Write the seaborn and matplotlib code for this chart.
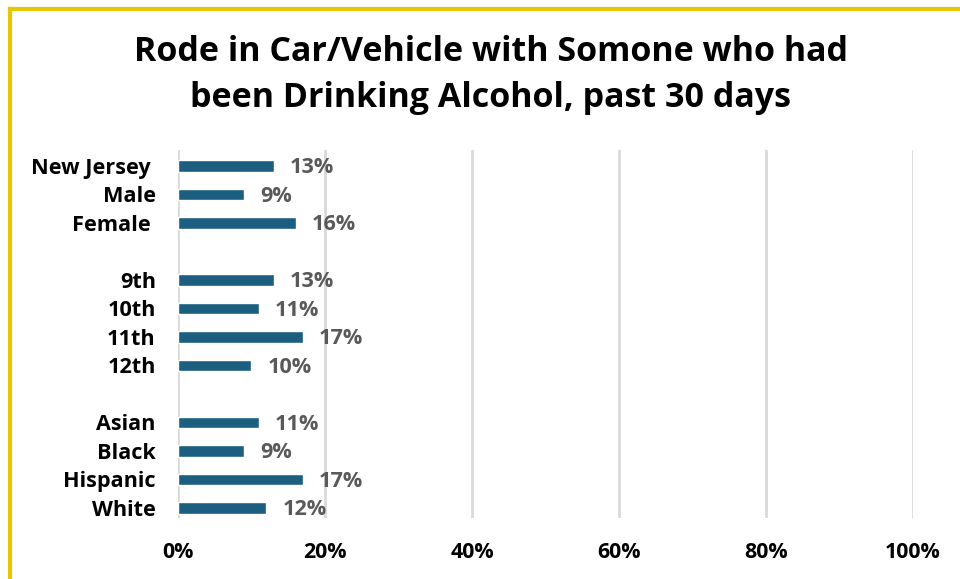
import matplotlib
matplotlib.use("Agg")
import matplotlib.pyplot as plt
import seaborn as sns
import pandas as pd
import numpy as np
from matplotlib.lines import Line2D

categories = ["New Jersey ", "Male", "Female ", " ", "9th", "10th", "11th", "12th", "  ",
              "Asian", "Black", "Hispanic", "White"]
values = [13, 9, 16, np.nan, 13, 11, 17, 10, np.nan, 11, 9, 17, 12]
xticks = [0, 20, 40, 60, 80, 100]
xtick_labels = ["0%", "20%", "40%", "60%", "80%", "100%"]
title = "Rode in Car/Vehicle with Somone who had\nbeen Drinking Alcohol, past 30 days"

sns.set_theme(style="white")
plt.rcParams['font.family'] = ['Open Sans', 'DejaVu Sans']

df = pd.DataFrame({"cat": categories, "val": values})

fig = plt.figure(figsize=(9.6, 5.79), dpi=100)
ax = fig.add_axes([0.1854, 0.1054, 0.7656, 0.6356])

sns.barplot(data=df, x="val", y="cat", order=categories, color="#1C5E80",
            width=0.41, ax=ax, saturation=1)

for i, v in enumerate(values):
    if not np.isnan(v):
        ax.text(v + 2.2, i + 0.06, f"{int(v)}%", va="center", ha="left",
                fontsize=15.6, fontweight="bold", color="#595959")

ax.set_xlim(0, 100)
ax.set_ylim(12.35, -0.56)
ax.set_xticks(xticks)
ax.set_xticklabels(xtick_labels, fontsize=15.4, fontweight="bold", color="black")
ax.tick_params(axis="x", length=0, pad=17)
ax.tick_params(axis="y", length=0, pad=16)
for lbl in ax.get_yticklabels():
    lbl.set_fontsize(15.6)
    lbl.set_fontweight("bold")
    lbl.set_color("black")
ax.set_xlabel("")
ax.set_ylabel("")
ax.xaxis.grid(True, color="#D9D9D9", linewidth=2)
ax.set_axisbelow(True)
for s in ax.spines.values():
    s.set_visible(False)

fig.text(0.511, 0.870, title, ha="center", va="center", fontsize=24.5,
         fontweight="bold", color="black", linespacing=1.45)

# yellow frame (top and left edges visible)
fig.add_artist(Line2D([10/960, 10/960], [0, 1 - 9/579], transform=fig.transFigure,
                      color="#E6C700", linewidth=3, solid_capstyle="projecting"))
fig.add_artist(Line2D([10/960, 1], [1 - 9/579, 1 - 9/579], transform=fig.transFigure,
                      color="#E6C700", linewidth=3, solid_capstyle="projecting"))

fig.savefig("out.png", dpi=100)
